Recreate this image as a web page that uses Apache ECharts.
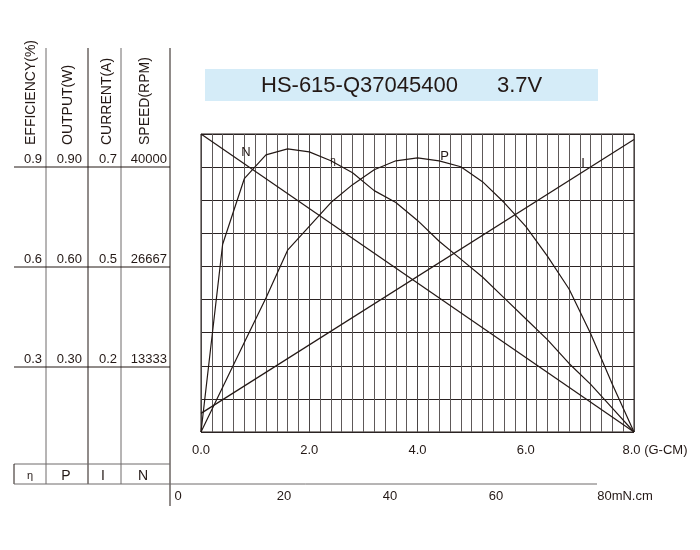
<!DOCTYPE html>
<html>
<head>
<meta charset="UTF-8">
<title>HS-615-Q37045400 3.7V</title>
<style>
html, body { margin: 0; padding: 0; background: #fff; }
#chart { width: 700px; height: 550px; }
</style>
</head>
<body>
<div id="chart"></div>
<script src="https://cdn.jsdelivr.net/npm/echarts@6/dist/echarts.min.js"></script>
<script>
var torque = [0, 0.4, 0.8, 1.2, 1.6, 2.0, 2.4, 2.8, 3.2, 3.6, 4.0, 4.4, 4.8, 5.2, 5.6, 6.0, 6.4, 6.8, 7.2, 7.6, 8.0];
// efficiency (%)
var efficiency = [0, 63, 85, 93, 95, 94, 91, 87, 81, 77, 71, 64, 58, 52, 45, 38, 31, 23, 16, 8, 0];
// output (W)
var output = [0, 0.15, 0.30, 0.45, 0.61, 0.69, 0.77, 0.83, 0.88, 0.91, 0.92, 0.91, 0.89, 0.84, 0.77, 0.69, 0.59, 0.48, 0.33, 0.16, 0];
// straight lines: no load -> stall
var torqueEnds = [0, 8];
var currentEnds = [0.05, 0.785];
var speedEnds = [44000, 0];

// left table
var headers = ['EFFICIENCY(%)', 'OUTPUT(W)', 'CURRENT(A)', 'SPEED(RPM)'];
var effTicks = ['0.9', '0.6', '0.3'];
var outTicks = ['0.90', '0.60', '0.30'];
var curTicks = ['0.7', '0.5', '0.2'];
var spdTicks = ['40000', '26667', '13333'];
var symbols = ['\u03b7', 'P', 'I', 'N'];

// curve tags [torque, value in its own axis]
var tagN = [0.83, 41300];
var tagEff = [2.44, 91];
var tagP = [4.5, 0.925];
var tagI = [7.06, 0.72];

var ink = '#231815';
var grey = '#6e6a6a';
var font = 'Liberation Sans, Arial, sans-serif';

var chart = echarts.init(document.getElementById('chart'));

function pairs(xs, ys) {
    var res = [];
    for (var i = 0; i < xs.length; i++) {
        res.push([xs[i], ys[i]]);
    }
    return res;
}

function tag(text, pos, size) {
    return {
        symbol: 'circle',
        symbolSize: 1,
        itemStyle: { color: 'rgba(0,0,0,0)' },
        label: {
            show: true,
            position: 'inside',
            formatter: text,
            color: ink,
            fontFamily: font,
            fontSize: size
        },
        data: [{ coord: pos }]
    };
}

function curve(name, data, yIndex, mark) {
    return {
        name: name,
        type: 'line',
        yAxisIndex: yIndex,
        data: data,
        symbol: 'none',
        silent: true,
        lineStyle: { color: ink, width: 1.2 },
        markPoint: mark
    };
}

// table drawing
var cols = [46, 88, 121, 170];
var colInk = [grey, ink, grey, ink];
var valueRight = [42, 82, 117, 167];
var headerX = [31, 68, 107, 145];
var rowY = [167, 267, 367];
var symX = [30, 66, 103, 143];
var tickCols = [effTicks, outTicks, curTicks, spdTicks];

var g = [];
function line(x1, y1, x2, y2, c) {
    g.push({ type: 'line', shape: { x1: x1, y1: y1, x2: x2, y2: y2 }, style: { stroke: c || ink, lineWidth: 1 } });
}
function text(t, x, y, align, size, rot) {
    g.push({
        type: 'text', x: x, y: y, rotation: rot || 0,
        style: { text: t, fill: ink, font: size + 'px ' + font, textAlign: align, textVerticalAlign: 'middle' }
    });
}

// title box
g.push({ type: 'rect', shape: { x: 205, y: 69, width: 393, height: 32 }, style: { fill: '#d5ecf8' } });
text('HS-615-Q37045400', 261, 86, 'left', 22);
text('3.7V', 497, 86, 'left', 22);

for (var c = 0; c < cols.length; c++) {
    line(cols[c], 48, cols[c], c === 3 ? 506 : 484, colInk[c]);
    text(headers[c], headerX[c], 145, 'left', 14, Math.PI / 2);
    text(symbols[c], symX[c], 476, 'center', c === 0 ? 11 : 14);
    for (var r = 0; r < rowY.length; r++) {
        text(tickCols[c][r], valueRight[c], rowY[r] - 8, 'right', 13);
    }
}
for (var r2 = 0; r2 < rowY.length; r2++) {
    line(14, rowY[r2], 170, rowY[r2]);
}
line(14, 464, 170, 464, grey);
line(14, 464, 14, 484);
line(14, 484, 597, 484, grey);

var option = {
    animation: false,
    backgroundColor: '#fff',
    textStyle: { fontFamily: font },
    grid: [{
        left: 201, top: 134, width: 433, height: 298,
        show: true, borderColor: ink, borderWidth: 1
    }, {
        left: 178, top: 483, width: 424, height: 1
    }],
    xAxis: [{
        type: 'value', gridIndex: 0, min: 0, max: 8, interval: 2,
        axisLine: { show: false },
        axisTick: { show: false },
        axisLabel: {
            margin: 12, color: ink, fontSize: 13, fontFamily: font,
            formatter: function (v) {
                return v === 8 ? '{e|8.0 (G-CM)}' : v.toFixed(1);
            },
            rich: { e: { color: ink, fontSize: 13, fontFamily: font, padding: [0, 0, 0, 42] } }
        },
        splitLine: { show: true, lineStyle: { color: '#4a4545', width: 1 } },
        minorTick: { show: false, splitNumber: 10 },
        minorSplitLine: { show: true, lineStyle: { color: '#5e5959', width: 1 } }
    }, {
        type: 'value', gridIndex: 1, min: 0, max: 80, interval: 20,
        axisLine: { show: false },
        axisTick: { show: false },
        splitLine: { show: false },
        axisLabel: {
            margin: 6, color: ink, fontSize: 13, fontFamily: font,
            formatter: function (v) {
                return v === 80 ? '{e|80mN.cm}' : String(v);
            },
            rich: { e: { color: ink, fontSize: 13, fontFamily: font, padding: [0, 0, 0, 46] } }
        }
    }],
    yAxis: [{
        type: 'value', gridIndex: 0, min: 0, max: 9, interval: 1,
        axisLine: { show: false },
        axisTick: { show: false },
        axisLabel: { show: false },
        splitLine: { show: true, lineStyle: { color: '#2b2323', width: 1 } }
    },
    { type: 'value', gridIndex: 0, min: 0, max: 100, show: false },
    { type: 'value', gridIndex: 0, min: 0, max: 1, show: false },
    { type: 'value', gridIndex: 0, min: 0, max: 0.8, show: false },
    { type: 'value', gridIndex: 0, min: 0, max: 44000, show: false },
    { type: 'value', gridIndex: 1, show: false }],
    series: [
        curve('N', pairs(torqueEnds, speedEnds), 4, tag('N', tagN, 13)),
        curve('η', pairs(torque, efficiency), 1, tag('\u03b7', tagEff, 10)),
        curve('P', pairs(torque, output), 2, tag('P', tagP, 13)),
        curve('I', pairs(torqueEnds, currentEnds), 3, tag('I', tagI, 13))
    ],
    graphic: g
};

chart.setOption(option);
</script>
</body>
</html>
